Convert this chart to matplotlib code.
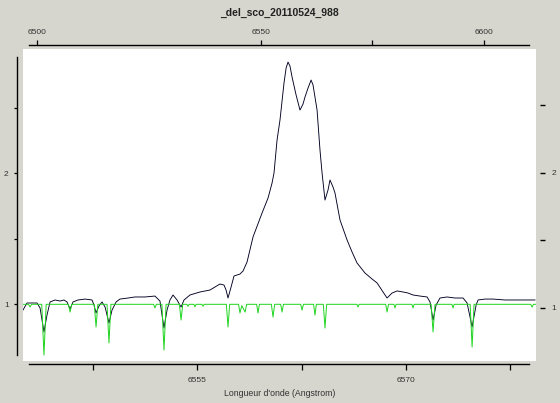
import matplotlib
matplotlib.use("Agg")
import matplotlib.pyplot as plt

plt.rcParams['font.family'] = ['Liberation Sans', 'DejaVu Sans']

title = "_del_sco_20110524_988"
xlabel = "Longueur d'onde (Angstrom)"

# observed spectrum (black)
wave = [6542.45, 6542.74, 6543.46, 6543.68, 6543.96, 6544.18, 6544.40, 6544.76,
        6545.12, 6545.40, 6545.62, 6545.84, 6546.05, 6546.41, 6546.92, 6547.42,
        6547.56, 6547.71, 6547.92, 6548.14, 6548.36, 6548.64, 6548.86, 6549.15,
        6549.43, 6550.01, 6550.51, 6551.23, 6551.95, 6552.31, 6552.60, 6552.82,
        6553.03, 6553.25, 6553.54, 6553.83, 6554.04, 6554.47, 6555.19, 6555.91,
        6556.27, 6556.63, 6556.92, 6557.07, 6557.21, 6557.43, 6557.64, 6558.07,
        6558.29, 6558.58, 6559.01, 6559.66, 6560.09, 6560.38, 6560.52, 6560.74,
        6560.95, 6561.24, 6561.39, 6561.53, 6561.67, 6561.82, 6562.11, 6562.39,
        6562.61, 6562.75, 6562.97, 6563.19, 6563.33, 6563.62, 6563.83, 6563.98,
        6564.19, 6564.41, 6564.55, 6564.77, 6564.91, 6565.27, 6565.78, 6566.14,
        6566.50, 6567.07, 6567.58, 6567.94, 6568.37, 6568.66, 6568.87, 6569.02,
        6569.38, 6569.81, 6570.17, 6570.53, 6571.03, 6571.54, 6571.75, 6571.97,
        6572.19, 6572.47, 6572.98, 6573.55, 6574.13, 6574.42, 6574.78, 6575.07,
        6575.21, 6575.71, 6576.29, 6577.15, 6577.87, 6578.59, 6579.31]
flux = [0.956, 1.010, 1.010, 0.972, 0.789, 0.918, 1.018, 1.033,
        1.025, 1.033, 1.018, 0.964, 1.018, 1.033, 1.040, 1.033,
        0.995, 0.934, 0.987, 1.018, 0.979, 0.857, 0.956, 1.018,
        1.040, 1.048, 1.056, 1.056, 1.063, 1.025, 0.819, 0.956,
        1.033, 1.071, 1.033, 0.979, 1.033, 1.071, 1.094, 1.109,
        1.132, 1.155, 1.147, 1.109, 1.048, 1.132, 1.216, 1.231,
        1.254, 1.323, 1.514, 1.697, 1.811, 1.926, 2.002, 2.254,
        2.406, 2.689, 2.803, 2.849, 2.819, 2.735, 2.598, 2.483,
        2.529, 2.582, 2.651, 2.712, 2.674, 2.483, 2.178, 2.002,
        1.796, 1.873, 1.949, 1.895, 1.850, 1.644, 1.491, 1.399,
        1.315, 1.239, 1.193, 1.163, 1.094, 1.048, 1.071, 1.086,
        1.102, 1.094, 1.086, 1.071, 1.063, 1.056, 1.018, 0.880,
        0.995, 1.048, 1.056, 1.048, 1.048, 1.010, 0.827, 0.995,
        1.033, 1.040, 1.040, 1.033, 1.033, 1.033, 1.033]

# telluric model (green)
wave_tel = [6542.45, 6542.85, 6542.96, 6543.07, 6543.80, 6543.96, 6544.12, 6545.72,
            6545.84, 6545.96, 6547.58, 6547.71, 6547.84, 6548.50, 6548.64, 6548.78,
            6551.85, 6551.95, 6552.05, 6552.45, 6552.60, 6552.75, 6553.71, 6553.83,
            6553.95, 6554.25, 6554.33, 6554.41, 6554.75, 6554.83, 6554.91, 6555.33,
            6555.41, 6555.49, 6557.09, 6557.21, 6557.33, 6557.97, 6558.07, 6558.20,
            6558.44, 6558.55, 6559.27, 6559.37, 6559.47, 6560.33, 6560.45, 6560.57,
            6561.00, 6561.10, 6561.20, 6562.44, 6562.54, 6562.64, 6563.37, 6563.47,
            6563.57, 6564.07, 6564.19, 6564.31, 6566.49, 6566.57, 6566.65, 6568.56,
            6568.66, 6568.76, 6569.15, 6569.23, 6569.31, 6570.45, 6570.53, 6570.61,
            6571.83, 6571.97, 6572.11, 6573.33, 6573.41, 6573.49, 6574.64, 6574.78,
            6574.92, 6579.00, 6579.10, 6579.20, 6579.35]
flux_tel = [1.000, 1.000, 0.980, 1.000, 1.000, 0.613, 1.000, 1.000,
            0.941, 1.000, 1.000, 0.827, 1.000, 1.000, 0.705, 1.000,
            1.000, 0.972, 1.000, 1.000, 0.651, 1.000, 1.000, 0.880,
            1.000, 1.000, 0.985, 1.000, 1.000, 0.980, 1.000, 1.000,
            0.985, 1.000, 1.000, 0.827, 1.000, 1.000, 0.934, 0.990,
            0.941, 1.000, 1.000, 0.934, 1.000, 1.000, 0.903, 1.000,
            1.000, 0.941, 1.000, 1.000, 0.956, 1.000, 1.000, 0.918,
            1.000, 1.000, 0.819, 1.000, 1.000, 0.979, 1.000, 1.000,
            0.941, 1.000, 1.000, 0.972, 1.000, 1.000, 0.972, 1.000,
            1.000, 0.789, 1.000, 1.000, 0.972, 1.000, 1.000, 0.674,
            1.000, 1.000, 0.979, 1.000, 1.000]

bottom_ticks = [6547.5, 6555, 6562.5, 6570, 6577.5]
bottom_labels = ["", "6555", "", "6570", ""]
top_ticks = [6500, 6550, 6575, 6600]
top_labels = ["6500", "6550", "", "6600"]
y_ticks = [1, 1.5, 2, 2.5]
y_labels = ["1", "", "2", ""]

bg = "#d6d6ce"
W, H = 560, 403
fig = plt.figure(figsize=(5.6, 4.03), dpi=100, facecolor=bg)
ax = fig.add_axes([22.7 / W, (H - 360.7) / H, 513.3 / W, 311.7 / H])
ax.set_facecolor("white")

ax.plot(wave, flux, color="#000022", lw=0.65)
ax.plot(wave_tel, flux_tel, color="#1ed41e", lw=0.7)

ax.set_xlim(6542.43, 6579.38)
ax.set_ylim(0.5695, 2.949)

for s in ["top", "right"]:
    ax.spines[s].set_visible(False)
ax.spines["left"].set_position(("outward", 3.9))
ax.spines["left"].set_bounds(0.613, 2.890)
ax.spines["bottom"].set_position(("outward", 2.6))
ax.spines["bottom"].set_bounds(6542.9, 6578.9)
ax.spines["left"].set_linewidth(1.0)
ax.spines["bottom"].set_linewidth(1.0)

ax.set_xticks(bottom_ticks, bottom_labels)
ax.set_yticks(y_ticks, y_labels)
ax.tick_params(axis="x", direction="out", length=4.3, width=0.9, labelsize=6,
               pad=5, labelcolor="#333333")
ax.tick_params(axis="y", direction="out", length=2.2, width=0.9, labelsize=6,
               pad=4, labelcolor="#333333")

# top axis
axt = ax.twiny()
axt.set_xlim(6496.73, 6611.64)
for s in ["left", "right", "bottom"]:
    axt.spines[s].set_visible(False)
axt.spines["top"].set_position(("outward", 2.9))
axt.spines["top"].set_bounds(6498.2, 6610.1)
axt.spines["top"].set_linewidth(1.0)
axt.set_xticks(top_ticks, top_labels)
axt.tick_params(axis="x", direction="out", length=3.6, width=0.9, labelsize=6,
                pad=3, labelcolor="#333333")

# right axis (ticks only)
axr = ax.twinx()
axr.set_ylim(0.6105, 2.914)
for s in ["left", "top", "bottom"]:
    axr.spines[s].set_visible(False)
axr.spines["right"].set_position(("outward", 2.9))
axr.spines["right"].set_color("none")
axr.set_yticks(y_ticks, y_labels)
axr.tick_params(axis="y", direction="out", length=3.6, width=1.0, labelsize=6,
                pad=4.5, labelcolor="#333333", color="black")

fig.text(279 / W, 1 - 13 / H, title, ha="center", va="center",
         fontsize=7.5, fontweight="bold", color="#222222")
fig.text(280 / W, 1 - 394 / H, xlabel, ha="center", va="center",
         fontsize=6.3, color="#333333")

fig.savefig("out.png", dpi=100, facecolor=bg)
